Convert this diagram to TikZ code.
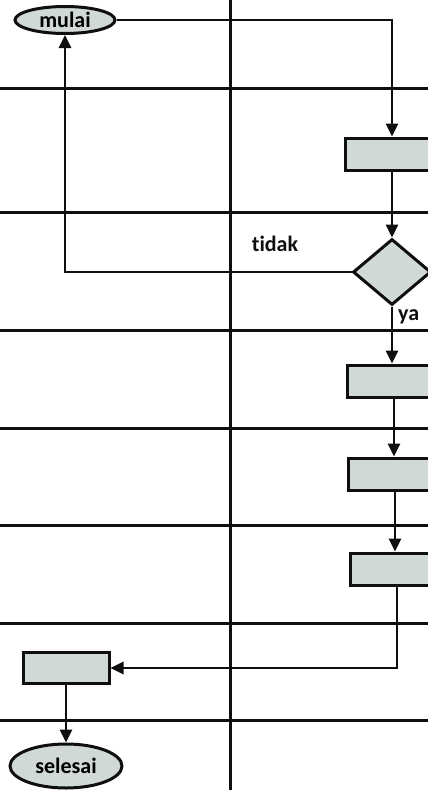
\documentclass[tikz,border=0pt]{standalone}
\usepackage{fontspec}
\setmainfont[Ligatures=NoCommon]{Carlito}
\usetikzlibrary{shapes.geometric,arrows.meta}
\definecolor{boxfill}{RGB}{208,216,216}
\definecolor{ink}{RGB}{15,15,15}
\tikzset{
  lane/.style={line width=3pt, draw=ink},
  arr/.style={line width=2.8pt, draw=ink, -{Triangle[length=13pt,width=12pt]}},
  proc/.style={rectangle, draw=ink, line width=3pt, fill=boxfill, minimum width=94pt, minimum height=32pt, inner sep=0pt},
  term/.style={ellipse, draw=ink, line width=3pt, fill=boxfill, inner sep=0pt, font=\bfseries\fontsize{22}{22}\selectfont},
  dec/.style={diamond, draw=ink, line width=3pt, fill=boxfill, minimum width=78pt, minimum height=66pt, inner sep=0pt},
  lbl/.style={font=\bfseries\fontsize{22}{22}\selectfont, text=ink, inner sep=0pt}
}
\begin{document}
\begin{tikzpicture}[x=1pt,y=-1pt]
\useasboundingbox (0,0) rectangle (428,790);
\fill[white] (0,0) rectangle (428,790);
\clip (0,0) rectangle (428,790);
% swimlane grid
\draw[lane] (230,-5) -- (230,795);
\foreach \yy in {88,212,330,428,525,623,720} \draw[lane] (-5,\yy) -- (433,\yy);
% nodes
\node[term, minimum width=100pt, minimum height=27pt] (mulai) at (65,20) {mulai};
\node[proc] (b1) at (392,154) {};
\node[dec] (d) at (392,272) {};
\node[proc] (b2) at (394,381) {};
\node[proc] (b3) at (395,474) {};
\node[proc] (b4) at (397,569) {};
\node[proc, minimum width=86pt, minimum height=31pt] (b5) at (66,668) {};
\node[term, minimum width=112pt, minimum height=44pt] (sel) at (66,766) {selesai};
\node[lbl] (tidak) at (275,244) {tidak};
\node[lbl, anchor=west] (ya) at (398,317) {ya};
% connectors
\draw[arr] (mulai.east) -| (b1.north);
\draw[arr] (b1.south) -- (d.north);
\draw[arr] (d.west) -| (mulai.south);
\draw[arr] (d.south) -- (d.south |- b2.north);
\draw[arr] (b2.south) -- (b2.south |- b3.north);
\draw[arr] (b3.south) -- (b3.south |- b4.north);
\draw[arr] (b4.south) |- (b5.east);
\draw[arr] (b5.south) -- (sel.north);
\end{tikzpicture}
\end{document}
